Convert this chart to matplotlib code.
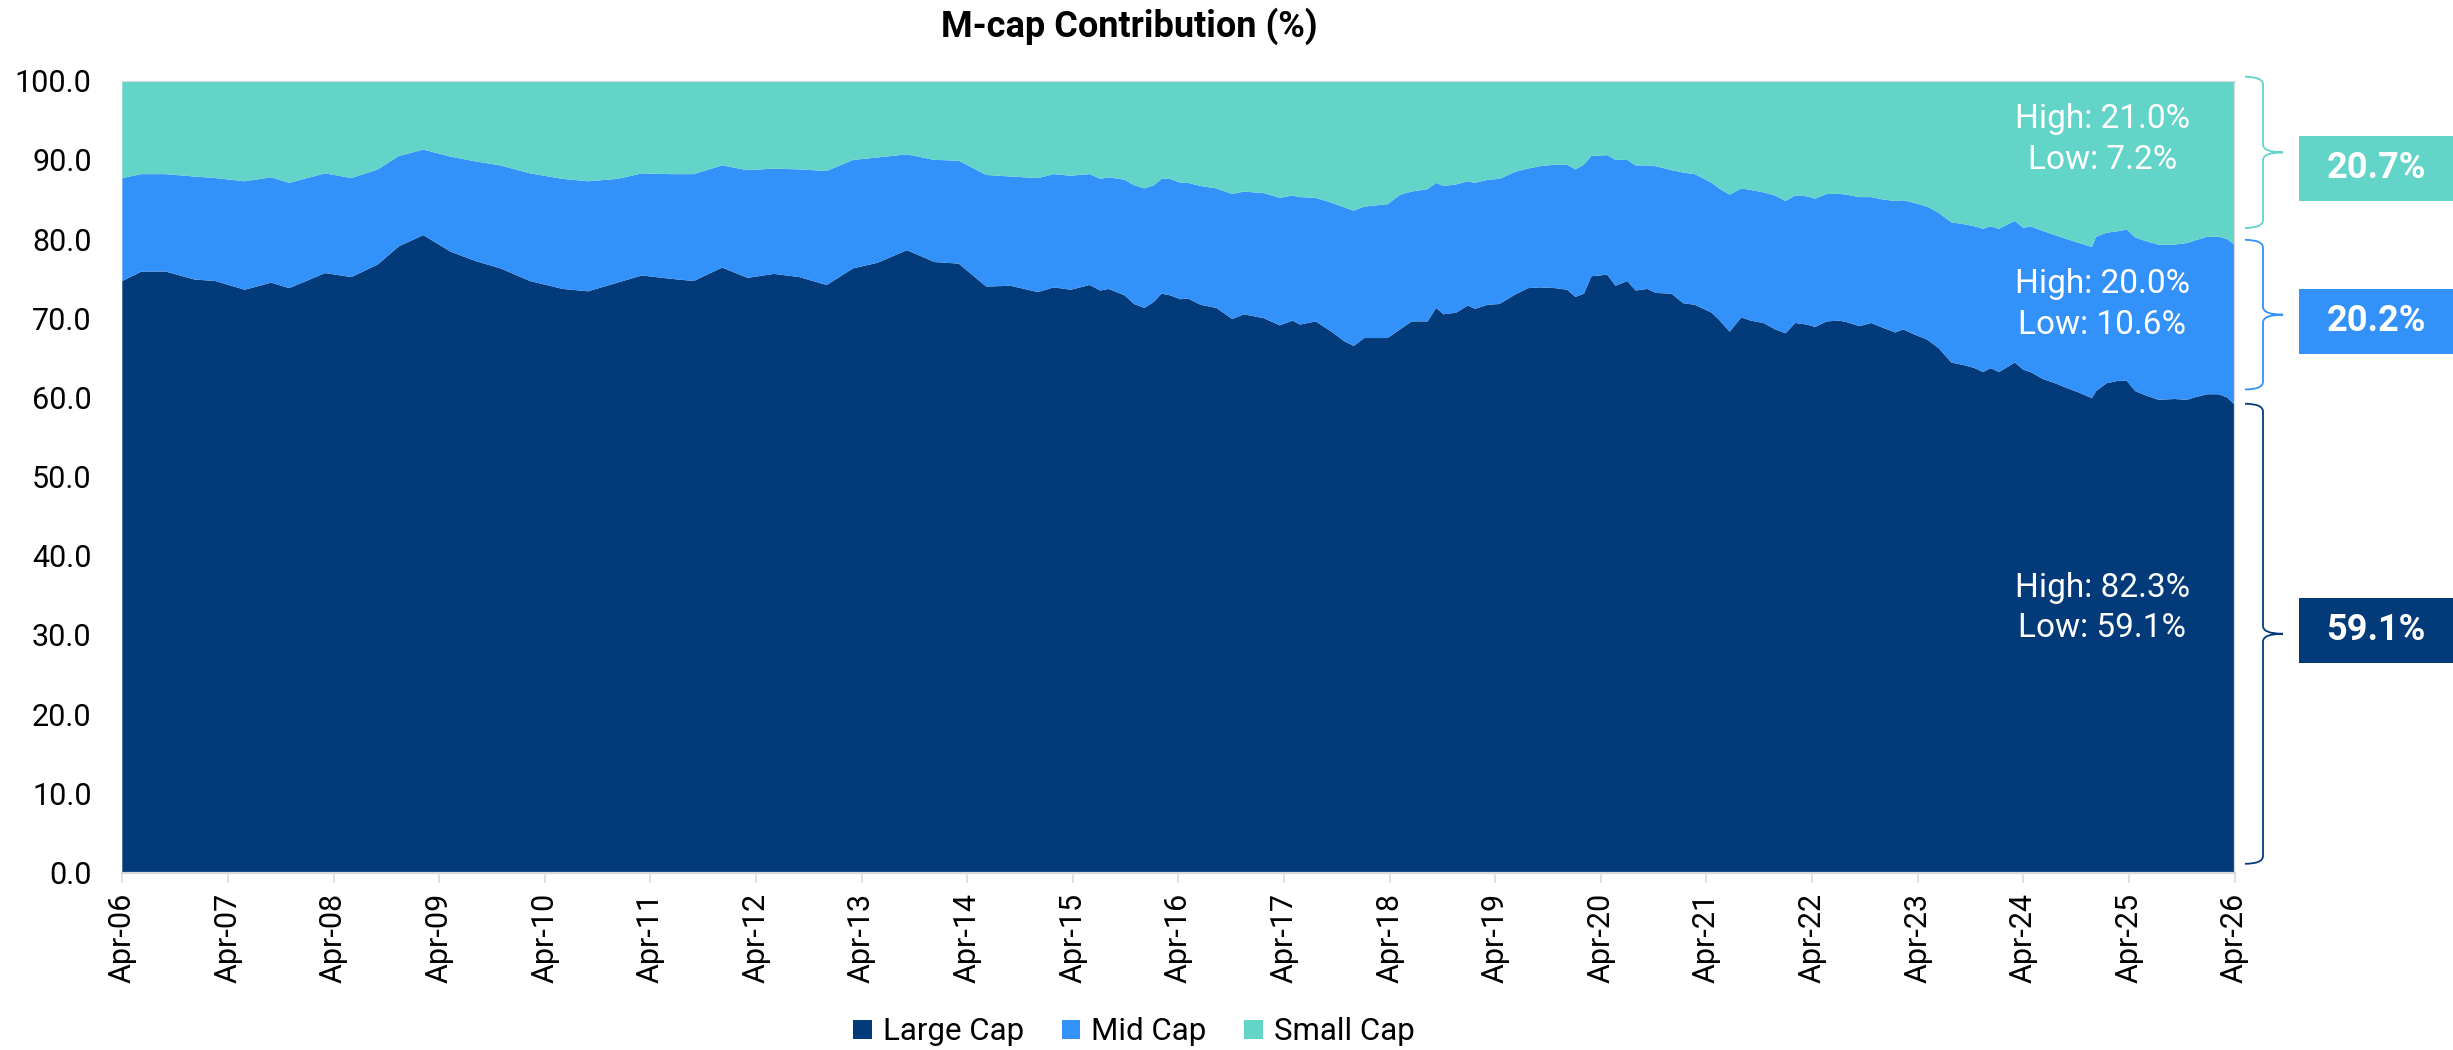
import numpy as np
import matplotlib
matplotlib.use('Agg')
import matplotlib.pyplot as plt
from matplotlib.patches import Patch, Rectangle
from matplotlib.path import Path
from matplotlib.patches import PathPatch
from matplotlib.transforms import blended_transform_factory

plt.rcParams['font.family'] = ['Roboto', 'DejaVu Sans']

### ============= data =============
# x positions as decimal years (quarterly early on, roughly monthly later)
years = [2006.25, 2006.43, 2006.66, 2006.93, 2007.13, 2007.41, 2007.66, 2007.83,
         2008.17, 2008.42, 2008.67, 2008.87, 2009.10, 2009.36, 2009.60, 2009.83,
         2010.11, 2010.42, 2010.66, 2010.94, 2011.17, 2011.43, 2011.66, 2011.93,
         2012.17, 2012.42, 2012.66, 2012.92, 2013.17, 2013.40, 2013.68, 2013.94,
         2014.17, 2014.43, 2014.66, 2014.92, 2015.07, 2015.23, 2015.41, 2015.51,
         2015.59, 2015.74, 2015.83, 2015.93, 2016.02, 2016.09, 2016.17, 2016.27,
         2016.34, 2016.46, 2016.61, 2016.76, 2016.87, 2017.06, 2017.21, 2017.33,
         2017.40, 2017.55, 2017.70, 2017.82, 2017.91, 2018.01, 2018.23, 2018.35,
         2018.46, 2018.61, 2018.69, 2018.76, 2018.88, 2018.99, 2019.06, 2019.18,
         2019.29, 2019.44, 2019.56, 2019.67, 2019.82, 2019.93, 2020.01, 2020.09,
         2020.16, 2020.31, 2020.39, 2020.50, 2020.58, 2020.69, 2020.77, 2020.92,
         2021.03, 2021.14, 2021.30, 2021.37, 2021.47, 2021.58, 2021.67, 2021.79,
         2021.90, 2022.00, 2022.09, 2022.20, 2022.28, 2022.39, 2022.51, 2022.58,
         2022.70, 2022.81, 2022.92, 2023.04, 2023.11, 2023.21, 2023.34, 2023.45,
         2023.57, 2023.68, 2023.79, 2023.87, 2023.94, 2024.02, 2024.17, 2024.25,
         2024.32, 2024.44, 2024.55, 2024.66, 2024.78, 2024.90, 2024.94, 2025.04,
         2025.15, 2025.23, 2025.31, 2025.42, 2025.53, 2025.68, 2025.80, 2025.87,
         2025.99, 2026.10, 2026.18, 2026.25]

large_cap = [74.7, 75.9, 75.9, 74.9, 74.7, 73.6, 74.5, 73.8,
             75.7, 75.2, 76.8, 79.1, 80.5, 78.4, 77.2, 76.3,
             74.7, 73.7, 73.4, 74.5, 75.4, 75.0, 74.7, 76.4,
             75.1, 75.6, 75.2, 74.2, 76.3, 77.0, 78.6, 77.1,
             76.9, 74.0, 74.1, 73.3, 73.9, 73.6, 74.2, 73.5,
             73.7, 72.9, 71.8, 71.3, 72.1, 73.1, 72.9, 72.4,
             72.5, 71.7, 71.3, 69.9, 70.5, 70.0, 69.1, 69.7,
             69.2, 69.6, 68.3, 67.1, 66.5, 67.5, 67.5, 68.6,
             69.6, 69.6, 71.3, 70.5, 70.7, 71.6, 71.2, 71.7,
             71.8, 73.0, 73.8, 73.9, 73.8, 73.6, 72.7, 73.1,
             75.3, 75.5, 74.1, 74.7, 73.5, 73.7, 73.2, 73.1,
             71.9, 71.7, 70.7, 69.8, 68.3, 70.1, 69.7, 69.4,
             68.6, 68.1, 69.4, 69.2, 68.9, 69.6, 69.7, 69.5,
             69.0, 69.4, 68.8, 68.2, 68.6, 68.0, 67.3, 66.2,
             64.4, 64.1, 63.7, 63.2, 63.7, 63.2, 64.4, 63.5,
             63.2, 62.3, 61.8, 61.2, 60.6, 59.9, 60.8, 61.8,
             62.1, 62.1, 60.8, 60.2, 59.7, 59.8, 59.7, 60.0,
             60.4, 60.4, 60.0, 59.1]

mid_cap = [13.0, 12.3, 12.3, 13.0, 13.0, 13.7, 13.3, 13.3,
           12.6, 12.5, 12.0, 11.4, 10.8, 12.0, 12.6, 13.0,
           13.6, 13.9, 13.9, 13.1, 12.9, 13.2, 13.5, 12.9,
           13.6, 13.3, 13.6, 14.4, 13.7, 13.3, 12.1, 12.9,
           13.0, 14.1, 13.8, 14.4, 14.3, 14.4, 14.0, 14.1,
           14.1, 14.6, 15.0, 15.1, 14.7, 14.5, 14.7, 14.7,
           14.6, 15.0, 15.1, 15.8, 15.5, 15.8, 16.1, 15.8,
           16.1, 15.6, 16.3, 16.9, 17.1, 16.6, 16.9, 17.0,
           16.4, 16.7, 15.8, 16.2, 16.2, 15.7, 15.9, 15.8,
           15.8, 15.5, 15.1, 15.3, 15.6, 15.8, 16.1, 16.3,
           15.2, 15.1, 15.9, 15.3, 15.8, 15.6, 16.0, 15.6,
           16.5, 16.5, 16.4, 16.6, 17.3, 16.3, 16.5, 16.5,
           16.9, 16.7, 16.1, 16.2, 16.2, 16.1, 16.0, 16.1,
           16.3, 15.9, 16.2, 16.6, 16.3, 16.6, 16.8, 17.1,
           17.7, 17.8, 17.9, 18.1, 17.9, 18.1, 17.9, 17.9,
           18.4, 18.7, 18.7, 18.8, 18.9, 19.1, 19.5, 19.0,
           18.9, 19.1, 19.4, 19.5, 19.6, 19.5, 19.8, 19.8,
           19.9, 19.9, 20.0, 20.2]

small_cap = [12.3, 11.8, 11.8, 12.1, 12.3, 12.7, 12.2, 12.9,
             11.7, 12.3, 11.2, 9.5, 8.7, 9.6, 10.2, 10.7,
             11.7, 12.4, 12.7, 12.4, 11.7, 11.8, 11.8, 10.7,
             11.3, 11.1, 11.2, 11.4, 10.0, 9.7, 9.3, 10.0,
             10.1, 11.9, 12.1, 12.3, 11.8, 12.0, 11.8, 12.4,
             12.2, 12.5, 13.2, 13.6, 13.2, 12.4, 12.4, 12.9,
             12.9, 13.3, 13.6, 14.3, 14.0, 14.2, 14.8, 14.5,
             14.7, 14.8, 15.4, 16.0, 16.4, 15.9, 15.6, 14.4,
             14.0, 13.7, 12.9, 13.3, 13.1, 12.7, 12.9, 12.5,
             12.4, 11.5, 11.1, 10.8, 10.6, 10.6, 11.2, 10.6,
             9.5, 9.4, 10.0, 10.0, 10.7, 10.7, 10.8, 11.3,
             11.6, 11.8, 12.9, 13.6, 14.4, 13.6, 13.8, 14.1,
             14.5, 15.2, 14.5, 14.6, 14.9, 14.3, 14.3, 14.4,
             14.7, 14.7, 15.0, 15.2, 15.1, 15.4, 15.9, 16.7,
             17.9, 18.1, 18.4, 18.7, 18.4, 18.7, 17.7, 18.6,
             18.4, 19.0, 19.5, 20.0, 20.5, 21.0, 19.7, 19.2,
             19.0, 18.8, 19.8, 20.3, 20.7, 20.7, 20.5, 20.2,
             19.7, 19.7, 20.0, 20.7]

series_names = ['Large Cap', 'Mid Cap', 'Small Cap']
colors = ['#033B7A', '#3391FA', '#62D4C8']

# right-hand call-outs: latest value, historic high / low
latest = ['59.1%', '20.2%', '20.7%']
hi_lo = ['High: 82.3%\nLow: 59.1%', 'High: 20.0%\nLow: 10.6%', 'High: 21.0%\nLow: 7.2%']

tick_years = list(range(2006, 2027))
tick_labels = ['Apr-%02d' % (y % 100) for y in tick_years]

### ============= figure =============
W, H = 2453, 1050
fig = plt.figure(figsize=(W / 100, H / 100), dpi=100)
ax = fig.add_axes([122.3 / W, 1 - 872.5 / H, (2234.5 - 122.3) / W, (872.5 - 80.7) / H])

ax.stackplot(years, large_cap, mid_cap, small_cap, colors=colors, lw=0,
             labels=series_names)

ax.set_xlim(2006.25, 2026.25)
ax.set_ylim(0, 100)
ax.set_yticks(np.arange(0, 101, 10))
ax.set_yticklabels(['%.1f' % v for v in np.arange(0, 101, 10)])
ax.set_xticks([y + 0.25 for y in tick_years])
ax.set_xticklabels(tick_labels, rotation=90)

ax.tick_params(axis='y', length=0, pad=22, labelsize=22)
ax.tick_params(axis='x', length=7.5, width=1.1, color='#D9D9D9', pad=7,
               labelsize=22)
ax.spines['left'].set_visible(False)
ax.spines['bottom'].set_color('#D9D9D9')
ax.spines['bottom'].set_linewidth(1.6)
for s in ['top', 'right']:
    ax.spines[s].set_color('#D9D9D9')
    ax.spines[s].set_linewidth(0.9)

# title and legend
fig.text(1129 / W, 1 - 36.7 / H, 'M-cap Contribution (%)', ha='center',
         va='baseline', fontsize=26, fontweight='bold')
handles = [Patch(facecolor=c, edgecolor='none') for c in colors]
fig.legend(handles, series_names, loc='center', bbox_to_anchor=(1134 / W, 1 - 1032 / H),
           ncol=3, frameon=False, fontsize=22.5, handlelength=0.6, handleheight=0.6,
           handletextpad=0.35, columnspacing=1.2)

# high / low notes inside the areas
note_y = [33.4, 71.7, 92.6]
for txt, yv in zip(hi_lo, note_y):
    ax.text(2025.0, yv, txt, ha='center', va='center', color='white',
            fontsize=24, linespacing=1.35, multialignment='center')

# braces on the right side of the plot
trans = blended_transform_factory(fig.transFigure, ax.transData)
def brace(top, bottom, color):
    x0, x1, x2 = 2245 / W, 2263 / W, 2283 / W
    r = 1.0
    tip = (top + bottom) / 2.0
    verts = [(x0, top), (x1, top), (x1, top - r),
             (x1, tip + r), (x1, tip), (x2, tip),
             (x1, tip), (x1, tip - r),
             (x1, bottom + r), (x1, bottom), (x0, bottom)]
    codes = [Path.MOVETO, Path.CURVE3, Path.CURVE3,
             Path.LINETO, Path.CURVE3, Path.CURVE3,
             Path.CURVE3, Path.CURVE3,
             Path.LINETO, Path.CURVE3, Path.CURVE3]
    p = PathPatch(Path(verts, codes), facecolor='none', edgecolor=color,
                  lw=1.3, transform=trans, clip_on=False)
    ax.add_artist(p)

brace(59.2, 1.1, colors[0])
brace(79.9, 61.0, colors[1])
brace(100.5, 81.4, colors[2])

# value boxes
box_tops = [598, 289, 136]
for top, c, txt in zip(box_tops, colors, latest):
    fig.patches.append(Rectangle((2299 / W, 1 - (top + 65) / H), 160 / W, 65 / H,
                                 facecolor=c, edgecolor='none',
                                 transform=fig.transFigure, figure=fig))
    fig.text(2376 / W, 1 - (top + 32.5) / H, txt, ha='center', va='center',
             color='white', fontsize=26, fontweight='bold')

fig.savefig('out.png', dpi=100)
